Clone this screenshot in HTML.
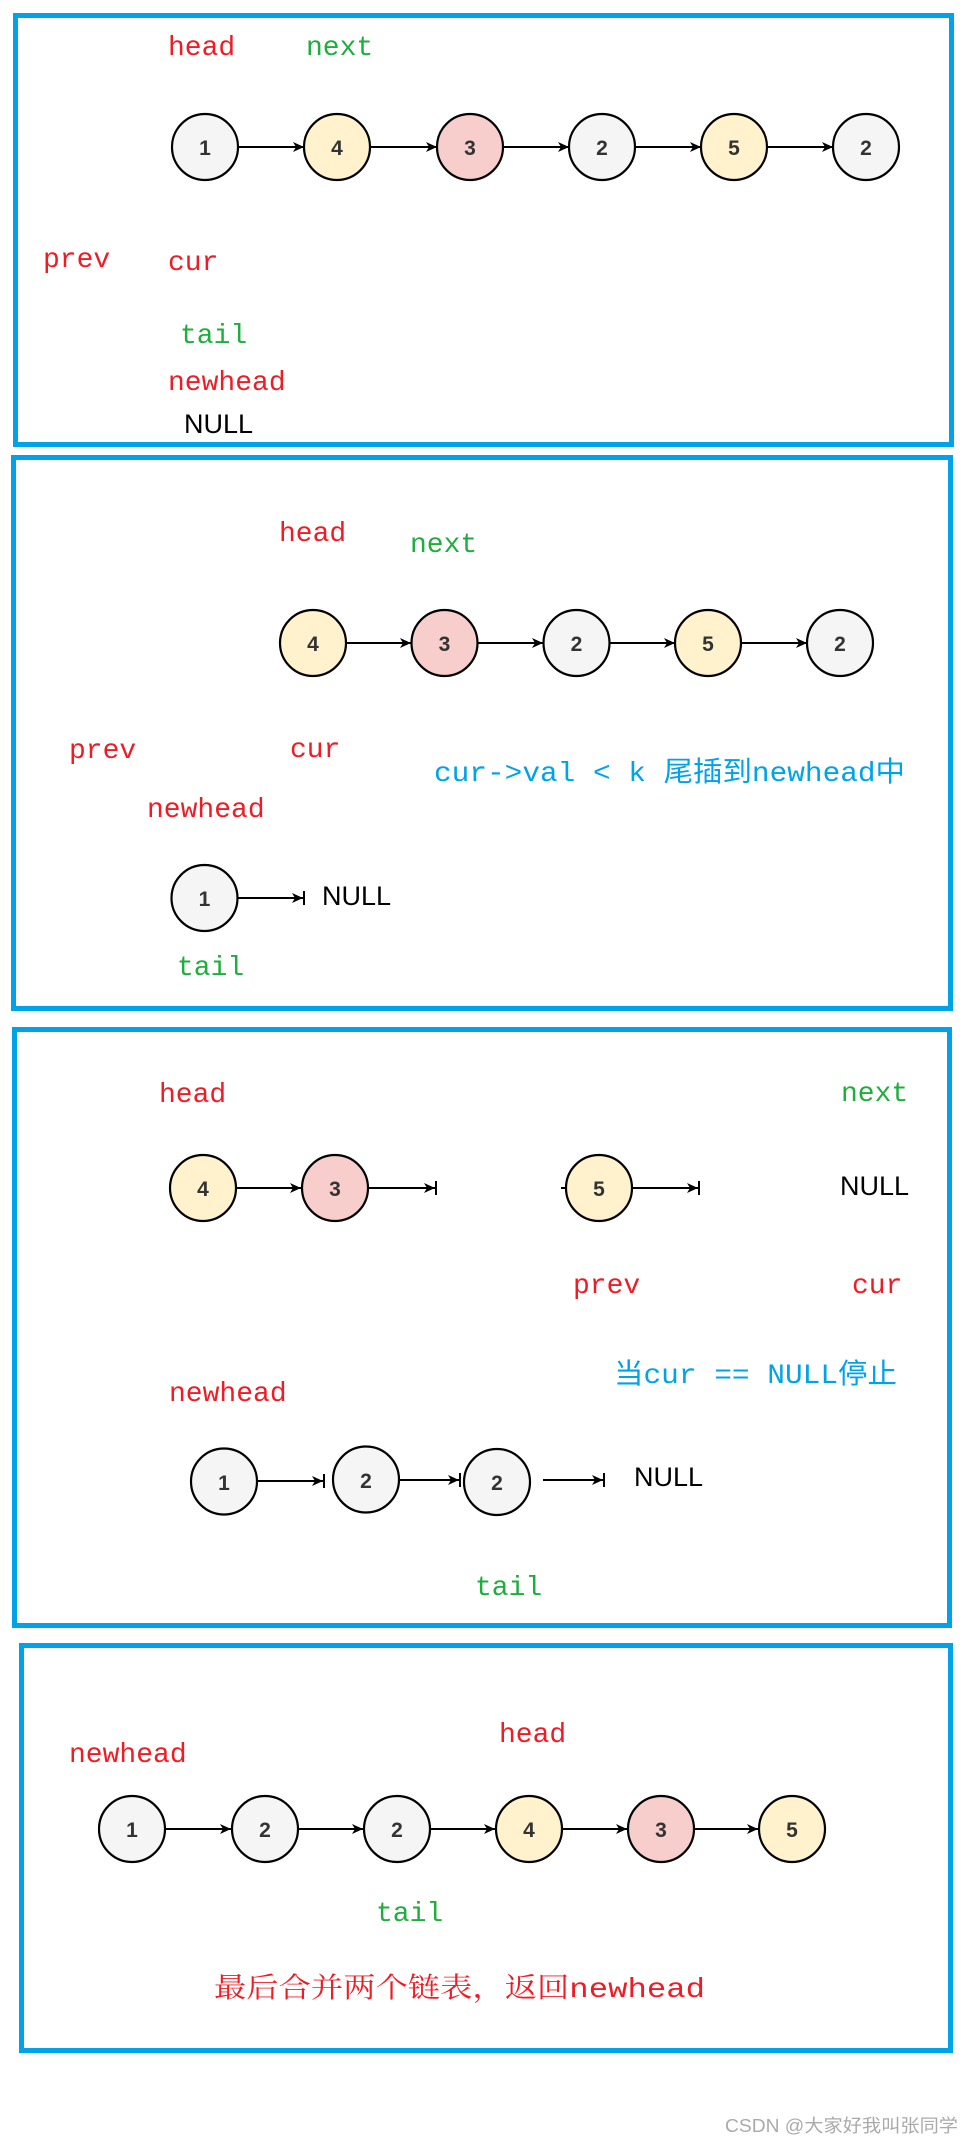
<!DOCTYPE html>
<html><head><meta charset="utf-8"><style>
html,body{margin:0;padding:0;background:#fff;}
svg{display:block;}
.l{font-family:"Liberation Mono","Noto Sans CJK SC",monospace;font-size:28px;}
.r{fill:#ee1c24;} .g{fill:#1fae3e;} .b{fill:#00a2e8;}
.n{font-family:"Liberation Sans",sans-serif;font-size:27px;fill:#000;}
.num{font-family:"Liberation Sans",sans-serif;font-size:21px;font-weight:bold;fill:#333;text-anchor:middle;}
.c{stroke:#000;stroke-width:2.2;}
.gy{fill:#f5f5f5;} .ye{fill:#fff2cc;} .pk{fill:#f8cecc;}
.a{stroke:#000;stroke-width:2;}
.box{fill:none;stroke:#00a2e8;stroke-width:5;}
</style></head><body>
<svg width="967" height="2145" viewBox="0 0 967 2145" xmlns="http://www.w3.org/2000/svg">
<defs>
<marker id="ar" markerUnits="userSpaceOnUse" markerWidth="12" markerHeight="12" refX="11" refY="6" orient="auto">
<path d="M0,1 L11,6 L0,11 L3,6 z" fill="#000"/>
</marker>
</defs>

<!-- Box 1 -->
<rect class="box" x="15.5" y="15.5" width="936" height="429"/>
<text class="l r" x="168" y="55">head</text>
<text class="l g" x="306" y="55">next</text>
<g>
<line class="a" x1="238" y1="147" x2="304" y2="147" marker-end="url(#ar)"/>
<line class="a" x1="370" y1="147" x2="437" y2="147" marker-end="url(#ar)"/>
<line class="a" x1="503" y1="147" x2="569" y2="147" marker-end="url(#ar)"/>
<line class="a" x1="635" y1="147" x2="701" y2="147" marker-end="url(#ar)"/>
<line class="a" x1="767" y1="147" x2="833" y2="147" marker-end="url(#ar)"/>
<circle class="c gy" cx="205" cy="147" r="33"/><text class="num" x="205" y="155">1</text>
<circle class="c ye" cx="337" cy="147" r="33"/><text class="num" x="337" y="155">4</text>
<circle class="c pk" cx="470" cy="147" r="33"/><text class="num" x="470" y="155">3</text>
<circle class="c gy" cx="602" cy="147" r="33"/><text class="num" x="602" y="155">2</text>
<circle class="c ye" cx="734" cy="147" r="33"/><text class="num" x="734" y="155">5</text>
<circle class="c gy" cx="866" cy="147" r="33"/><text class="num" x="866" y="155">2</text>
</g>
<text class="l r" x="43" y="267">prev</text>
<text class="l r" x="168" y="270">cur</text>
<text class="l g" x="180" y="343">tail</text>
<text class="l r" x="168" y="390">newhead</text>
<text class="n" x="184" y="433">NULL</text>

<!-- Box 2 -->
<rect class="box" x="13.5" y="457.5" width="937" height="551"/>
<text class="l r" x="279" y="541">head</text>
<text class="l g" x="410" y="552">next</text>
<line class="a" x1="346" y1="643" x2="411" y2="643" marker-end="url(#ar)"/>
<line class="a" x1="477" y1="643" x2="543" y2="643" marker-end="url(#ar)"/>
<line class="a" x1="609" y1="643" x2="675" y2="643" marker-end="url(#ar)"/>
<line class="a" x1="741" y1="643" x2="807" y2="643" marker-end="url(#ar)"/>
<circle class="c ye" cx="313" cy="643" r="33"/><text class="num" x="313" y="651">4</text>
<circle class="c pk" cx="444.5" cy="643" r="33"/><text class="num" x="444.5" y="651">3</text>
<circle class="c gy" cx="576.5" cy="643" r="33"/><text class="num" x="576.5" y="651">2</text>
<circle class="c ye" cx="708" cy="643" r="33"/><text class="num" x="708" y="651">5</text>
<circle class="c gy" cx="840" cy="643" r="33"/><text class="num" x="840" y="651">2</text>
<text class="l r" x="69" y="758">prev</text>
<text class="l r" x="290" y="757">cur</text>
<text class="l b" x="434" y="781" textLength="471" lengthAdjust="spacingAndGlyphs">cur-&gt;val &lt; k 尾插到newhead中</text>
<text class="l r" x="147" y="817">newhead</text>
<line class="a" x1="237" y1="898" x2="303" y2="898" marker-end="url(#ar)"/>
<line class="a" x1="304" y1="891" x2="304" y2="905"/>
<circle class="c gy" cx="204.5" cy="898" r="33"/><text class="num" x="204.5" y="906">1</text>
<text class="n" x="322" y="905">NULL</text>
<text class="l g" x="177" y="975">tail</text>

<!-- Box 3 -->
<rect class="box" x="14.5" y="1029.5" width="935" height="596"/>
<text class="l r" x="159" y="1102">head</text>
<text class="l g" x="841" y="1101">next</text>
<line class="a" x1="236" y1="1188" x2="301" y2="1188" marker-end="url(#ar)"/>
<line class="a" x1="368" y1="1188" x2="435" y2="1188" marker-end="url(#ar)"/>
<line class="a" x1="436" y1="1181" x2="436" y2="1195"/>
<circle class="c ye" cx="203" cy="1188" r="33"/><text class="num" x="203" y="1196">4</text>
<circle class="c pk" cx="335" cy="1188" r="33"/><text class="num" x="335" y="1196">3</text>
<line class="a" x1="561" y1="1188" x2="566" y2="1188"/>
<line class="a" x1="632" y1="1188" x2="698" y2="1188" marker-end="url(#ar)"/>
<line class="a" x1="699" y1="1181" x2="699" y2="1195"/>
<circle class="c ye" cx="599" cy="1188" r="33"/><text class="num" x="599" y="1196">5</text>
<text class="n" x="840" y="1195">NULL</text>
<text class="l r" x="573" y="1293">prev</text>
<text class="l r" x="852" y="1293">cur</text>
<text class="l b" x="614" y="1383" textLength="283" lengthAdjust="spacingAndGlyphs">当cur == NULL停止</text>
<text class="l r" x="169" y="1401">newhead</text>
<line class="a" x1="257" y1="1481" x2="323" y2="1481" marker-end="url(#ar)"/>
<line class="a" x1="324" y1="1474" x2="324" y2="1488"/>
<line class="a" x1="399" y1="1480" x2="459" y2="1480" marker-end="url(#ar)"/>
<line class="a" x1="460" y1="1473" x2="460" y2="1487"/>
<line class="a" x1="543" y1="1480" x2="603" y2="1480" marker-end="url(#ar)"/>
<line class="a" x1="604" y1="1473" x2="604" y2="1487"/>
<circle class="c gy" cx="224" cy="1481.5" r="33"/><text class="num" x="224" y="1490">1</text>
<circle class="c gy" cx="366" cy="1479.5" r="33"/><text class="num" x="366" y="1488">2</text>
<circle class="c gy" cx="497" cy="1482" r="33"/><text class="num" x="497" y="1490">2</text>
<text class="n" x="634" y="1486">NULL</text>
<text class="l g" x="475" y="1595">tail</text>

<!-- Box 4 -->
<rect class="box" x="21.5" y="1645.5" width="929" height="405"/>
<text class="l r" x="69" y="1762">newhead</text>
<text class="l r" x="499" y="1742">head</text>
<line class="a" x1="165" y1="1829" x2="231" y2="1829" marker-end="url(#ar)"/>
<line class="a" x1="298" y1="1829" x2="363" y2="1829" marker-end="url(#ar)"/>
<line class="a" x1="430" y1="1829" x2="495" y2="1829" marker-end="url(#ar)"/>
<line class="a" x1="562" y1="1829" x2="627" y2="1829" marker-end="url(#ar)"/>
<line class="a" x1="694" y1="1829" x2="758" y2="1829" marker-end="url(#ar)"/>
<circle class="c gy" cx="132" cy="1829" r="33"/><text class="num" x="132" y="1837">1</text>
<circle class="c gy" cx="265" cy="1829" r="33"/><text class="num" x="265" y="1837">2</text>
<circle class="c gy" cx="397" cy="1829" r="33"/><text class="num" x="397" y="1837">2</text>
<circle class="c ye" cx="529" cy="1829" r="33"/><text class="num" x="529" y="1837">4</text>
<circle class="c pk" cx="661" cy="1829" r="33"/><text class="num" x="661" y="1837">3</text>
<circle class="c ye" cx="792" cy="1829" r="33"/><text class="num" x="792" y="1837">5</text>
<text class="l g" x="376" y="1921">tail</text>
<text x="214" y="1997" fill="#ee1c24" font-family="'Liberation Mono','Noto Serif CJK SC',serif" font-size="28" textLength="491" lengthAdjust="spacingAndGlyphs">最后合并两个链表，返回newhead</text>

<text x="725" y="2132" fill="#aaa" font-family="'Liberation Sans','Noto Sans CJK SC',sans-serif" font-size="18" textLength="233" lengthAdjust="spacingAndGlyphs">CSDN @大家好我叫张同学</text>
</svg>
</body></html>
